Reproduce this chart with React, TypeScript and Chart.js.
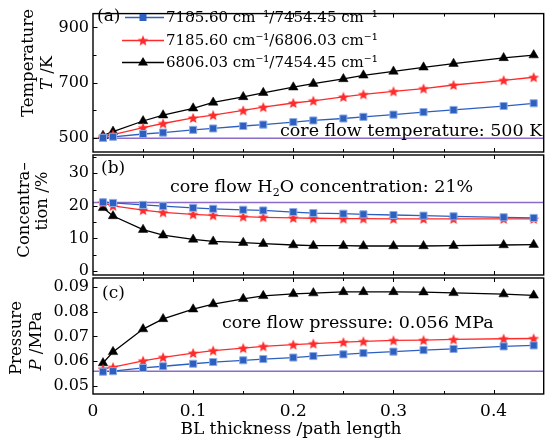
import React, { useEffect, useRef } from 'react';
import { Chart, registerables } from 'chart.js';

Chart.register(...registerables);

// ---------- data ----------
const xValues = [0.01, 0.02, 0.05, 0.07, 0.1, 0.12, 0.15, 0.17, 0.2, 0.22, 0.25, 0.27, 0.3, 0.33, 0.36, 0.41, 0.44];
const seriesLabels = ['7185.60 cm⁻¹/7454.45 cm⁻¹', '7185.60 cm⁻¹/6806.03 cm⁻¹', '6806.03 cm⁻¹/7454.45 cm⁻¹'];

const tempBlue = [501, 505, 515, 520, 530, 535, 544, 549, 558, 564, 571, 577, 585, 594, 602, 616, 626];
const tempRed = [505, 513, 538, 553, 573, 583, 600, 612, 627, 635, 649, 658, 669, 679, 692, 709, 720];
const tempBlack = [509, 524, 562, 583, 608, 629, 649, 664, 684, 697, 714, 727, 741, 756, 769, 790, 800];

const concBlue = [21.1, 20.9, 20.3, 19.9, 19.4, 19.1, 18.8, 18.6, 18.1, 17.8, 17.6, 17.4, 17.2, 17.0, 16.8, 16.5, 16.3];
const concRed = [20.9, 20.0, 18.7, 18.0, 17.4, 17.1, 16.7, 16.5, 16.3, 16.2, 16.1, 16.1, 16.0, 16.0, 16.0, 16.0, 16.0];
const concBlack = [19.4, 16.9, 12.7, 11.0, 9.7, 9.1, 8.7, 8.4, 8.0, 7.8, 7.8, 7.7, 7.7, 7.7, 7.8, 8.0, 8.1];

const presBlue = [0.0558, 0.056, 0.0573, 0.058, 0.059, 0.0597, 0.0604, 0.0609, 0.0615, 0.0621, 0.0628, 0.0633, 0.0639, 0.0645, 0.065, 0.066, 0.0664];
const presRed = [0.0569, 0.0576, 0.0602, 0.0616, 0.0633, 0.0643, 0.0653, 0.066, 0.0667, 0.0671, 0.0677, 0.068, 0.0684, 0.0685, 0.0688, 0.0691, 0.0692];
const presBlack = [0.0593, 0.0638, 0.073, 0.0771, 0.081, 0.0831, 0.0852, 0.0864, 0.0872, 0.0875, 0.088, 0.088, 0.088, 0.0879, 0.0876, 0.0871, 0.0866];

const coreTemperature = 500;
const coreConcentration = 21;
const corePressure = 0.056;

const xRange = [0, 0.45];
const xTicks = [0, 0.1, 0.2, 0.3, 0.4];
const xMinorTicks = [0.05, 0.15, 0.25, 0.35, 0.45];

const tempRange = [450, 950];
const tempTicks = [500, 700, 900];
const tempMinor = [600, 800];
const concRange = [-1.2, 35.6];
const concTicks = [0, 10, 20, 30];
const concMinor = [5, 15, 25, 35];
const presRange = [0.0468, 0.0936];
const presTicks = [0.05, 0.06, 0.07, 0.08, 0.09];
const presMinor: number[] = [];

// ---------- styles ----------
const FONT = '"DejaVu Serif", serif';
const W = 551;
const H = 442;
const BLUE = '#2c5fbf';
const RED = '#ff2b2b';
const BLACK = '#000000';
const PURPLE = '#8c6cc8';

function makeStar(color: string, size: number) {
  const c = document.createElement('canvas');
  c.width = size;
  c.height = size;
  const g = c.getContext('2d')!;
  const cx = size / 2, cy = size / 2 + 0.5;
  const R = size / 2 - 0.3, r = R * 0.45;
  g.beginPath();
  for (let i = 0; i < 10; i++) {
    const rad = i % 2 === 0 ? R : r;
    const ang = -Math.PI / 2 + (i * Math.PI) / 5;
    const px = cx + rad * Math.cos(ang);
    const py = cy + rad * Math.sin(ang);
    if (i === 0) g.moveTo(px, py); else g.lineTo(px, py);
  }
  g.closePath();
  g.fillStyle = color;
  g.fill();
  return c;
}

function pts(ys: number[]) {
  return xValues.map((x, i) => ({ x, y: ys[i] }));
}

function seriesDatasets(blue: number[], red: number[], black: number[], ref: number, star: HTMLCanvasElement) {
  return [
    {
      label: seriesLabels[0], data: pts(blue), borderColor: BLUE, borderWidth: 1.3,
      pointStyle: 'rect', pointRadius: 5, pointBackgroundColor: BLUE, pointBorderColor: '#8eace6', pointBorderWidth: 1, order: 0,
    },
    {
      label: seriesLabels[1], data: pts(red), borderColor: RED, borderWidth: 1.3,
      pointStyle: star, pointRadius: 6, order: 0,
    },
    {
      label: seriesLabels[2], data: pts(black), borderColor: BLACK, borderWidth: 1.3,
      pointStyle: 'triangle', pointRadius: 5.5, pointBackgroundColor: BLACK, pointBorderColor: BLACK, pointBorderWidth: 0.5, order: 0,
    },
    {
      label: 'core', data: [{ x: xRange[0], y: ref }, { x: xRange[1], y: ref }], borderColor: PURPLE, borderWidth: 1.5,
      pointRadius: 0, order: 5,
    },
  ];
}

function drawRotated(ctx: CanvasRenderingContext2D, cx: number, cy: number, parts: { t: string; italic?: boolean }[], size: number) {
  ctx.save();
  ctx.translate(cx, cy);
  ctx.rotate(-Math.PI / 2);
  ctx.textBaseline = 'middle';
  ctx.textAlign = 'left';
  ctx.fillStyle = '#000';
  let total = 0;
  const widths = parts.map((p) => {
    ctx.font = `${p.italic ? 'italic ' : ''}${size}px ${FONT}`;
    const w = ctx.measureText(p.t).width;
    total += w;
    return w;
  });
  let xx = -total / 2;
  parts.forEach((p, i) => {
    ctx.font = `${p.italic ? 'italic ' : ''}${size}px ${FONT}`;
    ctx.fillText(p.t, xx, 0);
    xx += widths[i];
  });
  ctx.restore();
}

function drawFrame(chart: any, yTicks: number[], yMinor: number[]) {
  const { ctx, chartArea: a, scales } = chart;
  const x = scales.x, y = scales.y;
  ctx.save();
  ctx.strokeStyle = '#000';
  ctx.lineWidth = 1;
  ctx.beginPath();
  [...xTicks, ...xMinorTicks].forEach((v) => {
    if (v <= xRange[0] || v >= xRange[1]) return;
    const px = Math.round(x.getPixelForValue(v)) + 0.5;
    const len = xTicks.includes(v) ? 4 : 3;
    ctx.moveTo(px, a.bottom); ctx.lineTo(px, a.bottom - len);
    ctx.moveTo(px, a.top); ctx.lineTo(px, a.top + len);
  });
  [...yTicks, ...yMinor].forEach((v) => {
    const py = Math.round(y.getPixelForValue(v)) + 0.5;
    const len = yTicks.includes(v) ? 4.5 : 3.5;
    ctx.moveTo(a.left, py); ctx.lineTo(a.left + len, py);
  });
  ctx.stroke();
  ctx.lineWidth = 1.4;
  ctx.strokeRect(a.left, a.top, a.right - a.left, a.bottom - a.top);
  ctx.restore();
}

function text(ctx: CanvasRenderingContext2D, s: string, x: number, y: number, size: number, baseline: CanvasTextBaseline = 'alphabetic') {
  ctx.font = `${size}px ${FONT}`;
  ctx.fillStyle = '#000';
  ctx.textAlign = 'left';
  ctx.textBaseline = baseline;
  ctx.fillText(s, x, y);
  return ctx.measureText(s).width;
}

function baseOptions(yRange: number[], yTicks: number[], padding: any, showX: boolean, fmt: (v: number) => string) {
  const xScale: any = {
    type: 'linear' as const,
    min: xRange[0],
    max: xRange[1],
    display: showX,
    afterBuildTicks: (ax: any) => { ax.ticks = xTicks.map((v) => ({ value: v })); },
    grid: { display: false, drawTicks: false },
    border: { display: false },
    ticks: {
      font: { family: FONT, size: 17 }, color: '#000', padding: 7, maxRotation: 0, autoSkip: false,
      callback: (v: any) => String(+Number(v).toFixed(2)),
    },
  };
  if (showX) xScale.afterFit = (s: any) => { s.height = 48; };
  return {
    responsive: false,
    animation: false as const,
    events: [] as any[],
    layout: { padding },
    plugins: { legend: { display: false }, tooltip: { enabled: false } },
    scales: {
      x: xScale,
      y: {
        type: 'linear' as const,
        min: yRange[0],
        max: yRange[1],
        afterBuildTicks: (ax: any) => { ax.ticks = yTicks.map((v) => ({ value: v })); },
        afterFit: (s: any) => { s.width = 93; },
        grid: { display: false, drawTicks: false },
        border: { display: false },
        ticks: {
          font: { family: FONT, size: 16 }, color: '#000', padding: 4, autoSkip: false,
          callback: (v: any) => fmt(Number(v)),
        },
      },
    },
  };
}

export default function App() {
  const refA = useRef<HTMLCanvasElement>(null);
  const refB = useRef<HTMLCanvasElement>(null);
  const refC = useRef<HTMLCanvasElement>(null);

  useEffect(() => {
    const star = makeStar(RED, 12);
    const starLegend = makeStar(RED, 12);

    const chartA = new Chart(refA.current!, {
      type: 'line',
      data: { datasets: seriesDatasets(tempBlue, tempRed, tempBlack, coreTemperature, star) as any },
      options: baseOptions(tempRange, tempTicks, { top: 6, bottom: H - 152, left: 0, right: 0 }, false, (v) => String(v)) as any,
      plugins: [{
        id: 'panelA',
        afterDraw(chart: any) {
          const ctx = chart.ctx as CanvasRenderingContext2D;
          drawFrame(chart, tempTicks, tempMinor);
          drawRotated(ctx, 29, 63, [{ t: 'Temperature' }], 16.5);
          drawRotated(ctx, 48, 73, [{ t: 'T', italic: true }, { t: ' /K' }], 16.5);
          text(ctx, '(a)', 97, 17, 17, 'middle');
          text(ctx, 'core flow temperature: 500 K', 280, 136, 17.5);
          // legend
          const rows = [17, 40, 62];
          const ds = chart.data.datasets;
          rows.forEach((ry, i) => {
            ctx.save();
            ctx.strokeStyle = ds[i].borderColor;
            ctx.lineWidth = 1.3;
            ctx.beginPath();
            ctx.moveTo(i === 0 ? 125 : 122, ry + 0.5);
            ctx.lineTo(164, ry + 0.5);
            ctx.stroke();
            const mx = 143;
            if (i === 0) {
              ctx.fillStyle = BLUE;
              ctx.fillRect(mx - 3.5, ry - 3, 7, 7);
            } else if (i === 1) {
              ctx.drawImage(starLegend, mx - 6, ry - 5.5, 12, 12);
            } else {
              ctx.fillStyle = BLACK;
              ctx.beginPath();
              ctx.moveTo(mx, ry - 5);
              ctx.lineTo(mx + 5, ry + 3.5);
              ctx.lineTo(mx - 5, ry + 3.5);
              ctx.closePath();
              ctx.fill();
            }
            ctx.restore();
            text(ctx, seriesLabels[i], 166, ry + 1, 15, 'middle');
          });
        },
      }],
    });

    const chartB = new Chart(refB.current!, {
      type: 'line',
      data: { datasets: seriesDatasets(concBlue, concRed, concBlack, coreConcentration, star) as any },
      options: baseOptions(concRange, concTicks, { top: 155, bottom: H - 275, left: 0, right: 0 }, false, (v) => String(v)) as any,
      plugins: [{
        id: 'panelB',
        afterDraw(chart: any) {
          const ctx = chart.ctx as CanvasRenderingContext2D;
          drawFrame(chart, concTicks, concMinor);
          drawRotated(ctx, 25, 210, [{ t: 'Concentra–' }], 16.5);
          drawRotated(ctx, 43, 201, [{ t: 'tion /%' }], 16.5);
          text(ctx, '(b)', 101, 169, 17, 'middle');
          let xx = 170;
          const by = 192;
          xx += text(ctx, 'core flow H', xx, by, 17.5);
          xx += text(ctx, '2', xx, by + 4, 11);
          text(ctx, 'O concentration: 21%', xx, by, 17.5);
        },
      }],
    });

    const chartC = new Chart(refC.current!, {
      type: 'line',
      data: { datasets: seriesDatasets(presBlue, presRed, presBlack, corePressure, star) as any },
      options: baseOptions(presRange, presTicks, { top: 278, bottom: 0, left: 0, right: 0 }, true, (v) => v.toFixed(2)) as any,
      plugins: [{
        id: 'panelC',
        afterDraw(chart: any) {
          const ctx = chart.ctx as CanvasRenderingContext2D;
          drawFrame(chart, presTicks, presMinor);
          drawRotated(ctx, 17, 338, [{ t: 'Pressure' }], 16.5);
          drawRotated(ctx, 37, 341, [{ t: 'P', italic: true }, { t: ' /MPa' }], 16.5);
          text(ctx, '(c)', 102, 294, 17, 'middle');
          text(ctx, 'core flow pressure: 0.056 MPa', 222, 328, 17.5);
          ctx.font = `17px ${FONT}`;
          const t = 'BL thickness /path length';
          const w = ctx.measureText(t).width;
          text(ctx, t, 291 - w / 2, 430, 17, 'middle');
        },
      }],
    });

    return () => {
      chartA.destroy();
      chartB.destroy();
      chartC.destroy();
    };
  }, []);

  const cs: React.CSSProperties = { position: 'absolute', left: 0, top: 0, display: 'block' };
  return (
    <div style={{ position: 'absolute', left: 0, top: 0, width: 545, height: 442, overflow: 'hidden', background: '#fff' }}>
      <canvas ref={refC} width={W} height={H} style={cs} />
      <canvas ref={refB} width={W} height={H} style={cs} />
      <canvas ref={refA} width={W} height={H} style={cs} />
    </div>
  );
}
